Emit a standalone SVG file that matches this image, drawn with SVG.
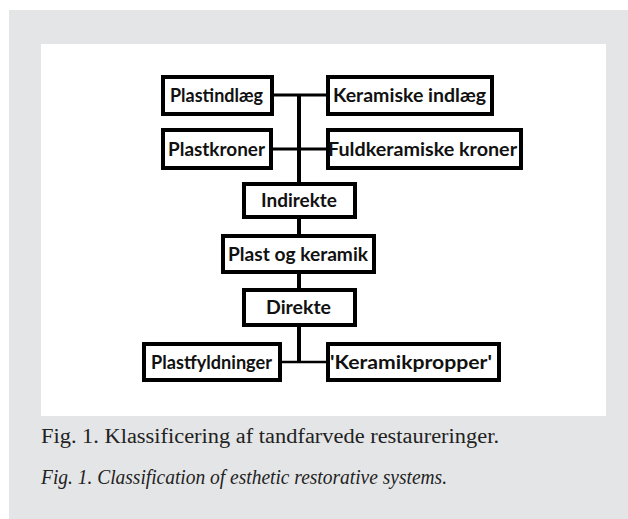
<svg xmlns="http://www.w3.org/2000/svg" width="628" height="519" viewBox="0 0 628 519">
<style>
.box{fill:#fff;stroke:#000;stroke-width:4}
.lbl{font-family:Lato,"Open Sans",sans-serif;font-weight:bold;font-size:18.5px;fill:#111}
.con{stroke:#000;fill:none}
.cap{font-family:"Liberation Serif","DejaVu Serif",serif;font-size:20px;fill:#222}
</style>
<rect x="9" y="10" width="619" height="509" fill="#e4e5e7"/>
<rect x="41" y="44" width="565" height="372" fill="#fff"/>
<g id="connectors">
<line class="con" x1="299" y1="95" x2="299" y2="184" stroke-width="4"/>
<line class="con" x1="274" y1="95" x2="328" y2="95" stroke-width="3"/>
<line class="con" x1="273" y1="149" x2="328" y2="149" stroke-width="3"/>
<line class="con" x1="299" y1="217" x2="299" y2="236" stroke-width="4"/>
<line class="con" x1="299" y1="272" x2="299" y2="290" stroke-width="4"/>
<line class="con" x1="299" y1="325" x2="299" y2="363" stroke-width="4"/>
<line class="con" x1="280" y1="362" x2="328" y2="362" stroke-width="2.5"/>
</g>
<g id="n_plastindlaeg"><rect class="box" x="163" y="77" width="109" height="37"/><text class="lbl" x="170" y="102" textLength="93" lengthAdjust="spacingAndGlyphs">Plastindlæg</text></g>
<g id="n_keramiske_indlaeg"><rect class="box" x="328" y="77" width="164" height="37"/><text class="lbl" x="333" y="102" textLength="153" lengthAdjust="spacingAndGlyphs">Keramiske indlæg</text></g>
<g id="n_plastkroner"><rect class="box" x="163" y="130" width="108" height="38"/><text class="lbl" x="168" y="155.5" textLength="97" lengthAdjust="spacingAndGlyphs">Plastkroner</text></g>
<g id="n_fuldkeramiske"><rect class="box" x="328" y="130" width="193" height="38"/><text class="lbl" x="328" y="155.5" textLength="189" lengthAdjust="spacingAndGlyphs">Fuldkeramiske kroner</text></g>
<g id="n_indirekte"><rect class="box" x="244" y="184" width="111" height="33"/><text class="lbl" x="261" y="207" textLength="76" lengthAdjust="spacingAndGlyphs">Indirekte</text></g>
<g id="n_plast_og_keramik"><rect class="box" x="223" y="236" width="151" height="36"/><text class="lbl" x="228" y="260.5" textLength="140" lengthAdjust="spacingAndGlyphs">Plast og keramik</text></g>
<g id="n_direkte"><rect class="box" x="244" y="290" width="111" height="35"/><text class="lbl" x="266" y="314" textLength="65" lengthAdjust="spacingAndGlyphs">Direkte</text></g>
<g id="n_plastfyldninger"><rect class="box" x="144" y="344" width="136" height="36"/><text class="lbl" x="151" y="368.5" textLength="121" lengthAdjust="spacingAndGlyphs">Plastfyldninger</text></g>
<g id="n_keramikpropper"><rect class="box" x="328" y="344" width="171" height="36"/><text class="lbl" x="330" y="368.5" textLength="162" lengthAdjust="spacingAndGlyphs">'Keramikpropper'</text></g>
<text class="cap" x="41" y="443" textLength="458" lengthAdjust="spacingAndGlyphs">Fig. 1. Klassificering af tandfarvede restaureringer.</text>
<text class="cap" x="41" y="484" font-style="italic" font-size="18" textLength="406" lengthAdjust="spacingAndGlyphs">Fig. 1. Classification of esthetic restorative systems.</text>
</svg>
